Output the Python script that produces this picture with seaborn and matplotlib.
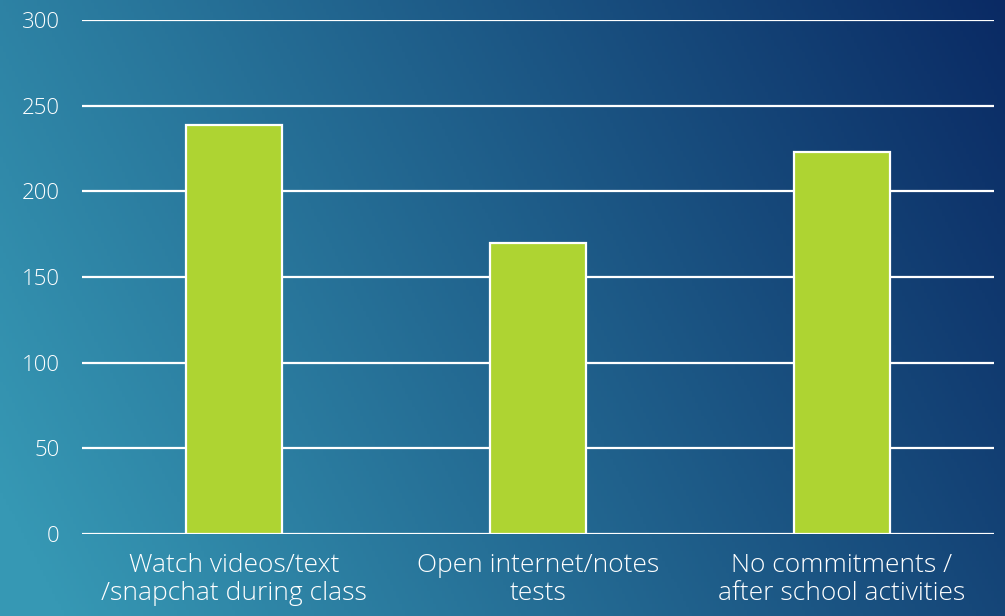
import numpy as np
import pandas as pd
import matplotlib
matplotlib.use('Agg')
import matplotlib.pyplot as plt
import seaborn as sns

# Data
categories = ['Watch videos/text\n/snapchat during class',
              'Open internet/notes\ntests',
              'No commitments /\nafter school activities']
counts = [239, 170, 223]
y_ticks = [0, 50, 100, 150, 200, 250, 300]

df = pd.DataFrame({'category': categories, 'count': counts})

sns.set_style('white')
plt.rcParams['font.family'] = ['Open Sans', 'DejaVu Sans']

fig = plt.figure(figsize=(10.05, 6.16), dpi=100)

# background gradient (teal left -> navy top right)
h, w = 200, 330
xx, yy = np.meshgrid(np.linspace(0, 1, w), np.linspace(0, 1, h))
t = np.clip(0.8 * xx + 0.25 * (1 - yy) - 0.05, 0, 1)
c0 = np.array([54, 152, 180]) / 255
c1 = np.array([10, 42, 100]) / 255
img = c0[None, None, :] * (1 - t[..., None]) + c1[None, None, :] * t[..., None]
bg = fig.add_axes([0, 0, 1, 1])
bg.imshow(img, aspect='auto', extent=[0, 1, 0, 1], origin='upper')
bg.axis('off')

ax = fig.add_axes([0.0816, 0.1331, 0.9074, 0.8344])
ax.patch.set_alpha(0)
sns.barplot(data=df, x='category', y='count', color='#AED432', width=0.316,
            edgecolor='white', linewidth=1.6, saturation=1, ax=ax, zorder=3)

ax.set_ylim(0, 300)
ax.set_yticks(y_ticks)
ax.set_xlim(-0.5, 2.5)
ax.grid(axis='y', color='white', linewidth=1.6, zorder=0)
ax.set_axisbelow(True)
for s in ax.spines.values():
    s.set_visible(False)
ax.tick_params(axis='both', length=0, colors='white')
ax.tick_params(axis='y', labelsize=16, pad=16)
ax.tick_params(axis='x', labelsize=19, pad=14)
for lbl in ax.get_xticklabels() + ax.get_yticklabels():
    lbl.set_fontweight('light')
for lbl in ax.get_xticklabels():
    lbl.set_linespacing(1.12)
ax.set_xlabel('')
ax.set_ylabel('')

fig.savefig('out.png', dpi=100)
